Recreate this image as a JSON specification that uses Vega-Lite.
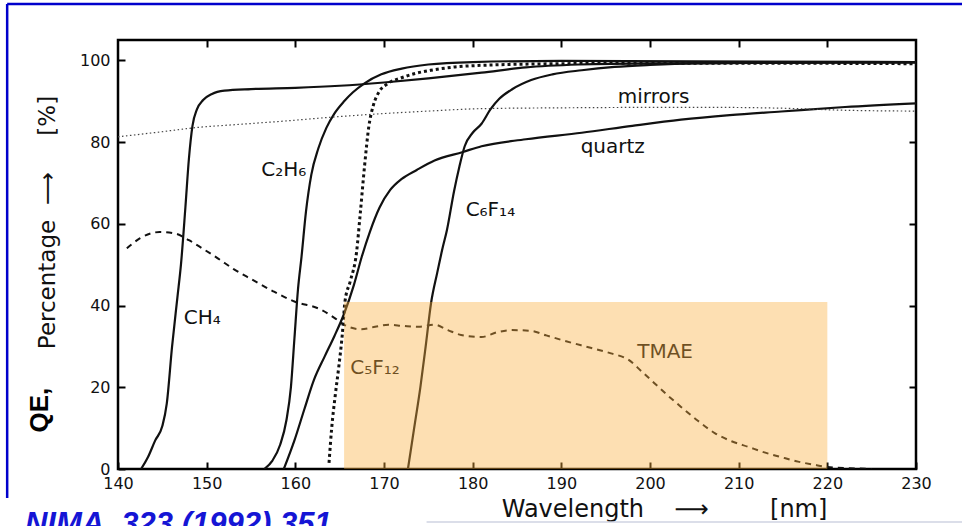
{
 "$schema": "https://vega.github.io/schema/vega-lite/v6.json",
 "width": 798,
 "height": 429,
 "autosize": {"type": "none"},
 "padding": {"left": 118, "top": 40, "right": 46, "bottom": 57},
 "background": "white",
 "config": {
  "view": {"stroke": "#000", "strokeWidth": 2.5},
  "axis": {"domain": false, "grid": false, "tickColor": "#000", "tickWidth": 2, "tickSize": -7,
   "labelFont": "DejaVu Sans", "labelFontSize": 16, "labelColor": "#111", "labelFlush": false, "labelOverlap": false,
   "titleFont": "DejaVu Sans", "titleFontWeight": "normal", "titleColor": "#111"}
 },
 "datasets": {
  "solid": [
   {"s":"CH4","x":142.6,"y":0},{"s":"CH4","x":143.4,"y":3},{"s":"CH4","x":144.2,"y":7},{"s":"CH4","x":145,"y":10.5},{"s":"CH4","x":145.5,"y":16},{"s":"CH4","x":146.1,"y":30},{"s":"CH4","x":146.7,"y":42},{"s":"CH4","x":147.1,"y":50},{"s":"CH4","x":147.6,"y":64},{"s":"CH4","x":148,"y":76},{"s":"CH4","x":148.4,"y":84},{"s":"CH4","x":148.9,"y":88},{"s":"CH4","x":149.6,"y":90.3},{"s":"CH4","x":150.6,"y":91.8},{"s":"CH4","x":152,"y":92.6},{"s":"CH4","x":155,"y":93},{"s":"CH4","x":160,"y":93.3},{"s":"CH4","x":165,"y":93.8},{"s":"CH4","x":170,"y":94.6},{"s":"CH4","x":175,"y":95.6},{"s":"CH4","x":181,"y":97},{"s":"CH4","x":186,"y":98.3},{"s":"CH4","x":192,"y":99},{"s":"CH4","x":200,"y":99.3},{"s":"CH4","x":215,"y":99.4},{"s":"CH4","x":230,"y":99.5},
   {"s":"C2H6","x":156.5,"y":0},{"s":"C2H6","x":157.4,"y":2},{"s":"C2H6","x":158.3,"y":6},{"s":"C2H6","x":159,"y":12},{"s":"C2H6","x":159.5,"y":20},{"s":"C2H6","x":159.9,"y":32},{"s":"C2H6","x":160.3,"y":44},{"s":"C2H6","x":160.7,"y":52},{"s":"C2H6","x":161.2,"y":63},{"s":"C2H6","x":161.8,"y":72},{"s":"C2H6","x":162.6,"y":78.5},{"s":"C2H6","x":163.5,"y":83.5},{"s":"C2H6","x":164.4,"y":87},{"s":"C2H6","x":165.5,"y":90},{"s":"C2H6","x":166.5,"y":92.2},{"s":"C2H6","x":167.8,"y":94.4},{"s":"C2H6","x":169.7,"y":96.6},{"s":"C2H6","x":172,"y":98},{"s":"C2H6","x":175,"y":99},{"s":"C2H6","x":180,"y":99.6},{"s":"C2H6","x":190,"y":99.9},{"s":"C2H6","x":205,"y":99.8},{"s":"C2H6","x":230,"y":99.6},
   {"s":"quartz","x":158.7,"y":0},{"s":"quartz","x":159.9,"y":7},{"s":"quartz","x":161,"y":14.5},{"s":"quartz","x":162.1,"y":21.8},{"s":"quartz","x":163.3,"y":27.5},{"s":"quartz","x":164.4,"y":32.5},{"s":"quartz","x":165.5,"y":38},{"s":"quartz","x":166.6,"y":45},{"s":"quartz","x":167.5,"y":52},{"s":"quartz","x":168.4,"y":58},{"s":"quartz","x":169.5,"y":64},{"s":"quartz","x":170.7,"y":68.3},{"s":"quartz","x":172,"y":71},{"s":"quartz","x":173.7,"y":73.2},{"s":"quartz","x":175.7,"y":75.5},{"s":"quartz","x":178.9,"y":77.6},{"s":"quartz","x":181,"y":79},{"s":"quartz","x":186,"y":80.7},{"s":"quartz","x":192.3,"y":82.3},{"s":"quartz","x":198,"y":84},{"s":"quartz","x":203.5,"y":85.5},{"s":"quartz","x":209,"y":86.6},{"s":"quartz","x":214.8,"y":87.5},{"s":"quartz","x":222,"y":88.6},{"s":"quartz","x":230,"y":89.5},
   {"s":"C6F14","x":172.7,"y":0},{"s":"C6F14","x":173.4,"y":10},{"s":"C6F14","x":174.1,"y":20},{"s":"C6F14","x":174.7,"y":30},{"s":"C6F14","x":175.3,"y":40.5},{"s":"C6F14","x":176,"y":48},{"s":"C6F14","x":176.6,"y":54},{"s":"C6F14","x":177.1,"y":58.5},{"s":"C6F14","x":177.9,"y":68},{"s":"C6F14","x":178.5,"y":74},{"s":"C6F14","x":179.1,"y":79},{"s":"C6F14","x":180,"y":82.3},{"s":"C6F14","x":181,"y":84.5},{"s":"C6F14","x":182,"y":88},{"s":"C6F14","x":183,"y":90.6},{"s":"C6F14","x":184.5,"y":93},{"s":"C6F14","x":186.6,"y":95.2},{"s":"C6F14","x":189,"y":96.6},{"s":"C6F14","x":192.3,"y":97.6},{"s":"C6F14","x":196,"y":98.4},{"s":"C6F14","x":200,"y":98.9},{"s":"C6F14","x":205,"y":99.3},{"s":"C6F14","x":215,"y":99.5},{"s":"C6F14","x":230,"y":99.5}
  ],
  "c5f12": [
   {"x":163.8,"y":1.5},{"x":164.1,"y":10},{"x":164.5,"y":18},{"x":164.9,"y":25},{"x":165.3,"y":33},{"x":165.6,"y":41},{"x":166.2,"y":46},{"x":166.9,"y":53},{"x":167.3,"y":62},{"x":167.8,"y":74},{"x":168.3,"y":84},{"x":168.8,"y":89},{"x":169.5,"y":92.5},{"x":170.4,"y":94.3},{"x":171.9,"y":95.7},{"x":173.5,"y":96.8},{"x":175.3,"y":97.6},{"x":178,"y":98.4},{"x":181,"y":98.8},{"x":190,"y":99.2},{"x":200,"y":99.3},{"x":215,"y":99.3},{"x":230,"y":99.2}
  ],
  "mirrors": [
   {"x":140,"y":81.3},{"x":144,"y":82.3},{"x":149,"y":83.6},{"x":154,"y":84.4},{"x":159,"y":85.2},{"x":164,"y":86.1},{"x":170,"y":87},{"x":175,"y":87.6},{"x":181,"y":88.2},{"x":190,"y":88.4},{"x":200,"y":88.5},{"x":208,"y":88.5},{"x":215,"y":88.3},{"x":222,"y":87.8},{"x":230,"y":87.6}
  ],
  "tmae": [
   {"x":141,"y":54},{"x":142.5,"y":56.5},{"x":144.7,"y":58},{"x":146.5,"y":57.6},{"x":148,"y":56},{"x":149.5,"y":54},{"x":151.3,"y":51.5},{"x":153,"y":49},{"x":155,"y":46.5},{"x":157.5,"y":43.5},{"x":159.9,"y":41},{"x":162.9,"y":39},{"x":164.4,"y":37},{"x":165.5,"y":35.3},{"x":167.4,"y":34.2},{"x":169,"y":34.8},{"x":170.5,"y":35.3},{"x":172.2,"y":35},{"x":173.9,"y":34.8},{"x":175.7,"y":35.3},{"x":177.2,"y":34},{"x":178.7,"y":32.8},{"x":181,"y":32.3},{"x":182.8,"y":33.5},{"x":184.4,"y":34},{"x":186.6,"y":33.8},{"x":188.3,"y":32.7},{"x":190,"y":31.6},{"x":193.4,"y":29.6},{"x":195.6,"y":28.3},{"x":197.6,"y":26.7},{"x":199,"y":24},{"x":200.5,"y":21},{"x":202,"y":18},{"x":203.5,"y":15.2},{"x":205.4,"y":11.8},{"x":207.3,"y":8.8},{"x":209.2,"y":6.8},{"x":211.1,"y":5.4},{"x":213,"y":4},{"x":214.8,"y":2.9},{"x":216.7,"y":1.8},{"x":218.6,"y":1},{"x":220,"y":0.5},{"x":222.5,"y":0.2},{"x":225,"y":0}
  ],
  "labels": [
   {"t":"mirrors","x":200.4,"y":91.0},{"t":"quartz","x":195.8,"y":78.8},{"t":"C₂H₆","x":158.7,"y":73.2},{"t":"C₆F₁₄","x":182.0,"y":63.4},{"t":"CH₄","x":149.5,"y":37.0},{"t":"C₅F₁₂","x":169.0,"y":24.7},{"t":"TMAE","x":201.7,"y":28.6}
  ],
  "frame": [
   {"x":127.5,"x2":236.5,"y":113.8,"y2":113.8},
   {"x":127.5,"x2":127.5,"y":113.8,"y2":-7.1}
  ]
 },
 "layer": [
  {
   "data": {"name":"frame"},
   "mark": {"type":"rule","color":"#0000cc","strokeWidth":2.5},
   "encoding": {
    "x": {"field":"x","type":"quantitative","scale":{"domain":[140,230],"nice":false,"zero":false},"axis":null},
    "x2": {"field":"x2"},
    "y": {"field":"y","type":"quantitative","scale":{"domain":[0,105],"nice":false,"zero":false},"axis":null},
    "y2": {"field":"y2"}
   }
  },
  {
   "data": {"name":"solid"},
   "mark": {"type":"line","color":"#111","strokeWidth":2.2,"interpolate":"monotone","clip":true},
   "encoding": {
    "x": {"field":"x","type":"quantitative","scale":{"domain":[140,230],"nice":false,"zero":false},
     "axis":{"orient":"bottom","values":[140,150,160,170,180,190,200,210,220,230],"labelPadding":13,
      "title":"Wavelength\u00a0\u00a0\u00a0\u00a0⟶\u00a0\u00a0\u00a0\u00a0\u00a0\u00a0\u00a0\u00a0[nm]","titleFontSize":24,"titleX":546,"titleY":47,"titleBaseline":"alphabetic","titleAlign":"center","titleAnchor":null}},
    "y": {"field":"y","type":"quantitative","scale":{"domain":[0,105],"nice":false,"zero":false},
     "axis":{"orient":"left","values":[0,20,40,60,80,100],"labelPadding":15,
      "title":"Percentage\u00a0\u00a0⟶\u00a0\u00a0\u00a0\u00a0\u00a0[%]","titleFontSize":23,"titleX":-71,"titleY":182,"titleAngle":270,"titleBaseline":"middle","titleAlign":"center","titleAnchor":null}},
    "detail": {"field":"s"}
   }
  },
  {
   "data": {"name":"c5f12"},
   "mark": {"type":"line","color":"#111","strokeWidth":3,"strokeDash":[3,3],"interpolate":"monotone","clip":true},
   "encoding": {
    "x": {"field":"x","type":"quantitative","scale":{"domain":[140,230],"nice":false,"zero":false},"axis":null},
    "y": {"field":"y","type":"quantitative","scale":{"domain":[0,105],"nice":false,"zero":false},"axis":null}
   }
  },
  {
   "data": {"name":"mirrors"},
   "mark": {"type":"line","color":"#444","strokeWidth":1.2,"strokeDash":[1.5,2.5],"interpolate":"monotone","clip":true},
   "encoding": {
    "x": {"field":"x","type":"quantitative","scale":{"domain":[140,230],"nice":false,"zero":false},"axis":null},
    "y": {"field":"y","type":"quantitative","scale":{"domain":[0,105],"nice":false,"zero":false},"axis":null}
   }
  },
  {
   "data": {"name":"tmae"},
   "mark": {"type":"line","color":"#111","strokeWidth":2,"strokeDash":[6,5],"interpolate":"monotone","clip":true},
   "encoding": {
    "x": {"field":"x","type":"quantitative","scale":{"domain":[140,230],"nice":false,"zero":false},"axis":null},
    "y": {"field":"y","type":"quantitative","scale":{"domain":[0,105],"nice":false,"zero":false},"axis":null}
   }
  },
  {
   "data": {"name":"labels"},
   "mark": {"type":"text","font":"DejaVu Sans","fontSize":20,"color":"#111","align":"center","baseline":"middle"},
   "encoding": {
    "x": {"field":"x","type":"quantitative","scale":{"domain":[140,230],"nice":false,"zero":false},"axis":null},
    "y": {"field":"y","type":"quantitative","scale":{"domain":[0,105],"nice":false,"zero":false},"axis":null},
    "text": {"field":"t"}
   }
  },
  {
   "data": {"values": [{"x":165.5,"x2":220,"y":0,"y2":40.9}]},
   "mark": {"type":"rect","color":"#FAAF3F","opacity":0.4},
   "encoding": {
    "x": {"field":"x","type":"quantitative","scale":{"domain":[140,230],"nice":false,"zero":false},
     "axis":{"orient":"top","labels":false,"title":null,"values":[150,160,170,180,190,200,210,220]}},
    "x2": {"field":"x2"},
    "y": {"field":"y","type":"quantitative","scale":{"domain":[0,105],"nice":false,"zero":false},
     "axis":{"orient":"right","labels":false,"title":null,"values":[20,40,60,80]}},
    "y2": {"field":"y2"}
   }
  },
  {
   "data": {"values": [{"x":131.2,"y":14.4,"t":"QE,"}]},
   "mark": {"type":"text","font":"Liberation Sans","fontWeight":"bold","fontSize":26,"color":"#000","angle":270,"align":"center","baseline":"middle"},
   "encoding": {
    "x": {"field":"x","type":"quantitative","scale":{"domain":[140,230],"nice":false,"zero":false},"axis":null},
    "y": {"field":"y","type":"quantitative","scale":{"domain":[0,105],"nice":false,"zero":false},"axis":null},
    "text": {"field":"t"}
   }
  },
  {
   "data": {"values": [{"x":129.5,"y":-15.9,"t":"NIMA, 323 (1992) 351"}]},
   "mark": {"type":"text","font":"Liberation Sans","fontWeight":"bold","fontStyle":"italic","fontSize":31,"color":"#1515d5","align":"left","baseline":"alphabetic"},
   "encoding": {
    "x": {"field":"x","type":"quantitative","scale":{"domain":[140,230],"nice":false,"zero":false},"axis":null},
    "y": {"field":"y","type":"quantitative","scale":{"domain":[0,105],"nice":false,"zero":false},"axis":null},
    "text": {"field":"t"}
   }
  },
  {
   "data": {"values": [{"x":174.8,"x2":236.5,"y":-13}]},
   "mark": {"type":"rule","color":"#cfd3e2","strokeWidth":1.5},
   "encoding": {
    "x": {"field":"x","type":"quantitative","scale":{"domain":[140,230],"nice":false,"zero":false},"axis":null},
    "x2": {"field":"x2"},
    "y": {"field":"y","type":"quantitative","scale":{"domain":[0,105],"nice":false,"zero":false},"axis":null}
   }
  }
 ],
 "resolve": {"axis": {"x": "independent", "y": "independent"}}
}
